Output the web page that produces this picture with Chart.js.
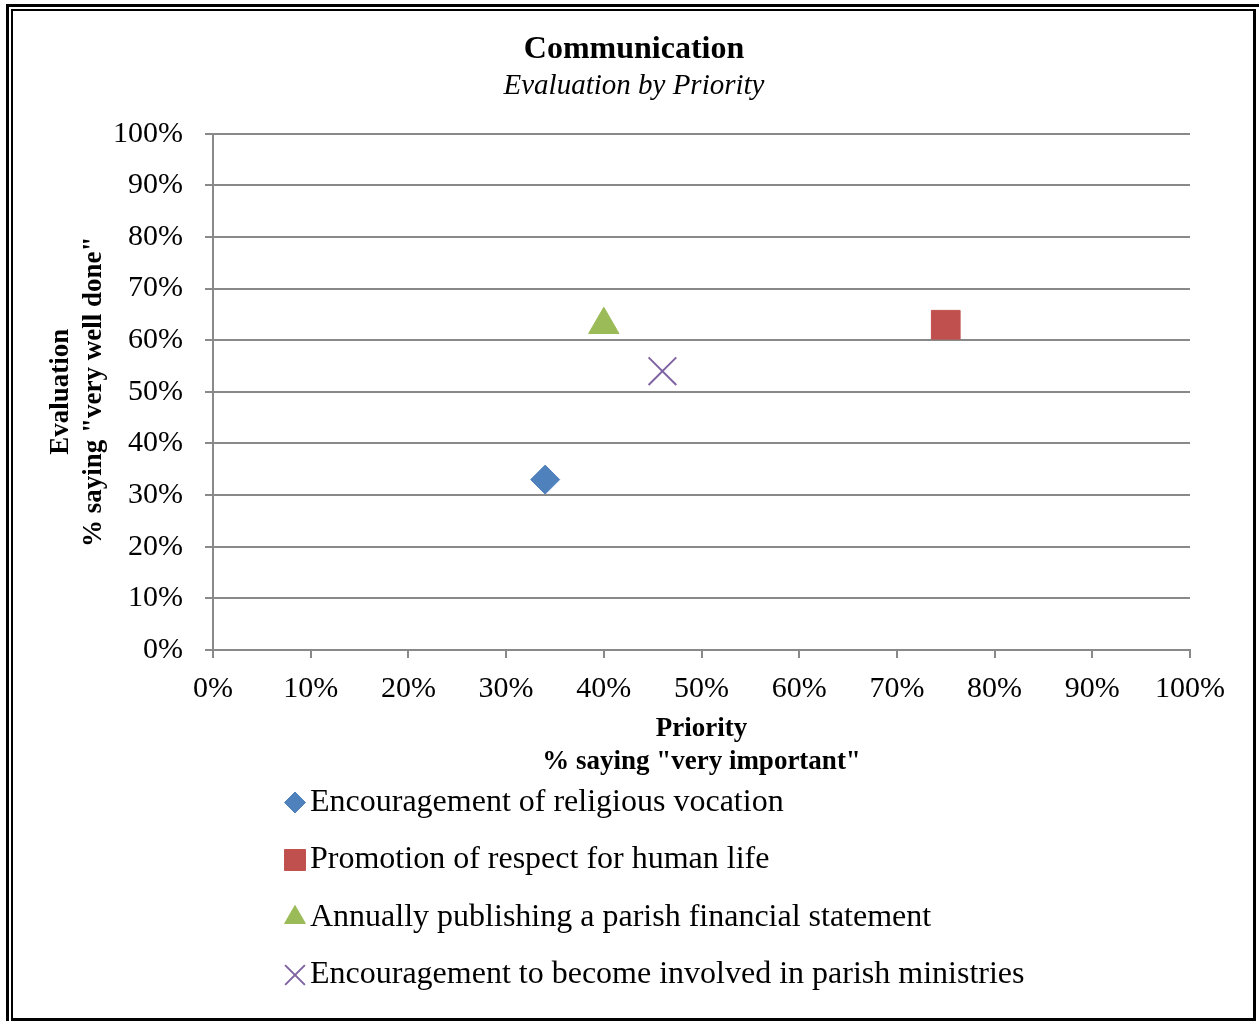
<!DOCTYPE html>
<html>
<head>
<meta charset="utf-8">
<title>Communication</title>
<script src="https://cdn.jsdelivr.net/npm/chart.js@4.4.0/dist/chart.umd.min.js"></script>
<style>
  html, body { margin: 0; padding: 0; background: #fff; overflow: hidden; }
  #wrap { position: relative; width: 1259px; height: 1021px; overflow: hidden; }
  #chart { position: absolute; left: 0; top: 0; }
  /* double frame round the chart */
  .frame-outer { position: absolute; left: 6px; top: 4px; width: 1400px; height: 1200px; border: 3px solid #000; }
  .frame-inner { position: absolute; left: 11px; top: 9px; width: 1245px; height: 1012px; box-sizing: border-box;
                 border-style: solid; border-color: #000; border-width: 2px 3px 3px 2px; }
</style>
</head>
<body>
<div id="wrap">
  <canvas id="chart" width="1259" height="1021"></canvas>
  <div class="frame-outer"></div>
  <div class="frame-inner"></div>
</div>
<script>
var seriesNames = [
  "Encouragement of religious vocation",
  "Promotion of respect for human life",
  "Annually publishing a parish financial statement",
  "Encouragement to become involved in parish ministries"
];
var priority   = [34, 75, 40, 46];   // % saying "very important"
var evaluation = [33, 63, 63, 54];   // % saying "very well done"
var colors     = ["#4F81BD", "#C0504D", "#9BBB59", "#8064A2"];
var markers    = ["rectRot", "rect", "triangle", "crossRot"];
var tickValues = [0, 10, 20, 30, 40, 50, 60, 70, 80, 90, 100];

var serif = '"Liberation Serif", "Times New Roman", serif';
var gridGray = "#898989";

// marker sizes on the plot and in the legend
var plotRadius   = [14.5, 20.3, 17.5, 19.6];
var legendRadius = [10.5, 14.8, 12, 14];

var datasets = seriesNames.map(function (name, i) {
  return {
    label: name,
    data: [{ x: priority[i], y: evaluation[i] }],
    pointStyle: markers[i],
    pointRadius: plotRadius[i],
    backgroundColor: colors[i],
    borderColor: colors[i],
    borderWidth: markers[i] === "crossRot" ? 2 : 1
  };
});

// legend drawn as a left-aligned column under the x axis title
var columnLegend = {
  id: "columnLegend",
  afterDraw: function (chart) {
    var ctx = chart.ctx;
    var x0 = 295, y0 = 802.5, step = 57.5;
    ctx.save();
    chart.data.datasets.forEach(function (ds, i) {
      var y = y0 + i * step;
      ctx.fillStyle = ds.backgroundColor;
      ctx.strokeStyle = ds.borderColor;
      ctx.lineWidth = ds.borderWidth;
      Chart.helpers.drawPoint(ctx, {
        pointStyle: ds.pointStyle,
        radius: legendRadius[i],
        rotation: 0,
        borderWidth: ds.borderWidth
      }, x0, y);
      ctx.fillStyle = "#000";
      ctx.font = "32px " + serif;
      ctx.textAlign = "left";
      ctx.textBaseline = "middle";
      ctx.fillText(ds.label, 310, y);
    });
    ctx.restore();
  }
};

function pctTicks(scale) {
  scale.ticks = tickValues.map(function (v) { return { value: v }; });
}

new Chart(document.getElementById("chart"), {
  type: "scatter",
  data: { datasets: datasets },
  plugins: [columnLegend],
  options: {
    responsive: false,
    animation: false,
    devicePixelRatio: 1,
    events: [],
    layout: { padding: { top: 0, left: 9, right: 0, bottom: 241 } },
    plugins: {
      legend: { display: false },
      tooltip: { enabled: false },
      title: {
        display: true,
        text: "Communication",
        color: "#000",
        font: { family: serif, size: 32, weight: "bold" },
        padding: { top: 31, bottom: 0 }
      },
      subtitle: {
        display: true,
        text: "Evaluation by Priority",
        color: "#000",
        font: { family: serif, size: 29, style: "italic" },
        padding: { top: 0, bottom: 29.5 }
      }
    },
    scales: {
      x: {
        type: "linear",
        min: 0,
        max: 100,
        afterFit: function (scale) { scale.height = 130; },
        afterBuildTicks: pctTicks,
        ticks: {
          color: "#000",
          padding: 13,
          font: { family: serif, size: 30 },
          callback: function (v) { return v + "%"; }
        },
        grid: { drawOnChartArea: false, drawTicks: true, tickLength: 8, color: gridGray, lineWidth: 2 },
        border: { display: true, color: gridGray, width: 2 },
        title: {
          display: true,
          text: ["Priority", '% saying "very important"'],
          color: "#000",
          font: { family: serif, size: 27, weight: "bold" },
          padding: { top: 0, bottom: 2 }
        }
      },
      y: {
        type: "linear",
        min: 0,
        max: 100,
        afterFit: function (scale) { scale.width = 204; },
        afterBuildTicks: pctTicks,
        ticks: {
          color: "#000",
          padding: 22,
          font: { family: serif, size: 30 },
          callback: function (v) { return v + "%"; }
        },
        grid: { drawOnChartArea: true, drawTicks: true, tickLength: 8, color: gridGray, lineWidth: 2 },
        border: { display: true, color: gridGray, width: 2 },
        title: {
          display: true,
          text: ["Evaluation", '% saying "very well done"'],
          color: "#000",
          font: { family: serif, size: 27, weight: "bold" },
          padding: { top: 36, bottom: 0 }
        }
      },
      // empty right-hand gutter so the plot stops short of the frame
      gutter: {
        type: "linear",
        position: "right",
        display: false,
        afterFit: function (scale) { scale.width = 69; }
      }
    }
  }
});
</script>
</body>
</html>
